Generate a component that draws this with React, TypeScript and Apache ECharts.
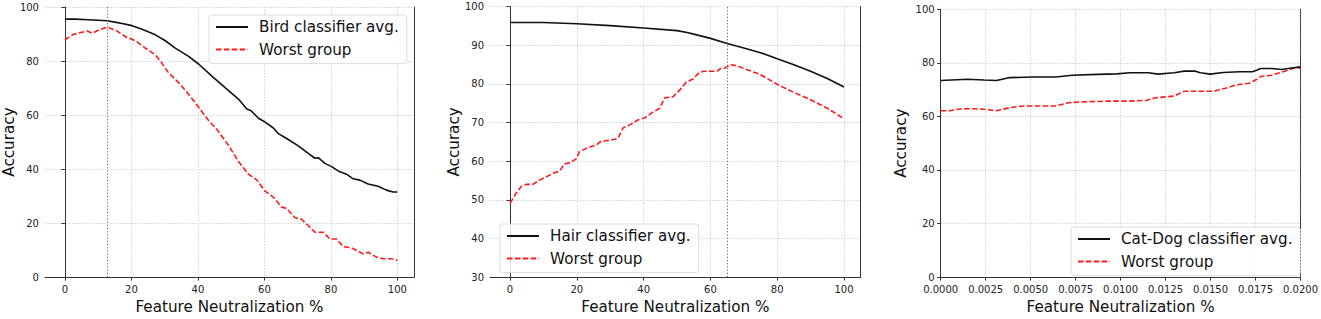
import React, { useEffect, useRef } from "react";
import * as echarts from "echarts";

// ---------- Data ----------
const birdAvgX = [0, 3, 7, 10, 12.7, 15, 17.2, 20.2, 23.2, 27.2, 30.2, 33.2, 37.2, 40.2, 44.2, 48.7, 52.2, 54.7, 56, 58.2, 60.2, 62.7, 64.2, 66.7, 70.2, 73.2, 75.2, 76.2, 78.2, 80.2, 82.2, 84.7, 86.7, 88.7, 91.2, 94.2, 96.7, 98.7, 100];
const birdAvgY = [95.5, 95.5, 95.3, 95.1, 94.9, 94.4, 93.9, 93.1, 91.8, 89.7, 87.5, 84.8, 81.7, 78.9, 74.4, 69.6, 65.9, 62.2, 61.6, 58.8, 57.4, 55.2, 53.1, 51.3, 48.6, 45.8, 44.0, 44.2, 42.1, 40.9, 39.3, 38.1, 36.4, 35.9, 34.5, 33.6, 32.2, 31.5, 31.5];
const birdWorstX = [0, 2.2, 4.5, 6.7, 8.2, 10.2, 12.7, 15.2, 18.2, 21.2, 24.2, 27.2, 29, 31.2, 34.2, 37.2, 40.2, 43.2, 45.7, 49.2, 52.2, 55.2, 57.7, 60.2, 62.7, 65.2, 66.7, 69.2, 71.2, 73.2, 75.2, 77.7, 79.7, 81.7, 83.7, 86.2, 88.2, 89.7, 91.2, 93.7, 95.7, 98.2, 100];
const birdWorstY = [87.8, 89.7, 90.5, 91.1, 90.3, 91.5, 92.5, 91.5, 89.0, 87.5, 84.8, 82.3, 79.5, 75.6, 72.0, 67.7, 62.9, 58.0, 54.7, 48.8, 42.8, 38.1, 36.0, 31.8, 29.6, 25.9, 25.4, 22.0, 21.4, 19.0, 16.6, 16.6, 14.1, 14.1, 11.3, 10.8, 9.6, 8.6, 9.2, 7.4, 6.8, 6.8, 6.2];

const hairAvgX = [0, 10, 20, 30, 40, 50, 53, 55, 60, 65, 70, 75, 80, 85, 90, 95, 100];
const hairAvgY = [95.9, 95.9, 95.6, 95.1, 94.5, 93.8, 93.3, 92.9, 91.8, 90.5, 89.3, 88.1, 86.5, 85.0, 83.3, 81.4, 79.2];
const hairWorstX = [0, 1.8, 3.3, 4.8, 6.8, 8.8, 10.8, 12.8, 14.8, 16.3, 18.3, 19.8, 20.8, 23.3, 25.8, 27.3, 29.8, 32.3, 33.8, 36.3, 38.3, 40.3, 42.8, 44.8, 46.3, 48.8, 50.8, 52.8, 54.8, 56.6, 58, 62, 63, 64, 65, 66, 68, 70, 75, 80, 85, 90, 95, 100];
const hairWorstY = [49.1, 51.7, 53.4, 54.0, 54.0, 55.1, 55.9, 56.9, 57.4, 59.3, 59.7, 60.6, 62.5, 63.5, 64.2, 65.2, 65.4, 65.9, 68.6, 69.6, 70.7, 71.2, 72.7, 73.7, 76.4, 76.7, 78.4, 80.5, 81.3, 82.9, 83.3, 83.3, 84.0, 84.0, 84.5, 85.0, 84.7, 84.0, 82.4, 79.9, 77.8, 75.9, 73.7, 71.0];

const catAvgX = [0, 0.0015, 0.0024, 0.0031, 0.00385, 0.0051, 0.0064, 0.0073, 0.0087, 0.0098, 0.0105, 0.01154, 0.01208, 0.01298, 0.01353, 0.01416, 0.01443, 0.01498, 0.0157, 0.0166, 0.01733, 0.0176, 0.01778, 0.01841, 0.01895, 0.0195, 0.02];
const catAvgY = [73.4, 73.9, 73.6, 73.4, 74.5, 74.7, 74.7, 75.4, 75.7, 75.9, 76.3, 76.3, 75.8, 76.3, 76.9, 76.9, 76.3, 75.8, 76.4, 76.7, 76.7, 77.3, 77.9, 77.9, 77.5, 78.1, 78.5];
const catWorstX = [0, 0.0005, 0.00095, 0.0015, 0.0024, 0.0031, 0.00385, 0.0046, 0.0064, 0.0071, 0.0077, 0.0093, 0.0105, 0.01145, 0.0119, 0.01298, 0.01353, 0.01515, 0.01588, 0.01642, 0.01715, 0.0175, 0.01778, 0.01841, 0.01913, 0.01967, 0.02];
const catWorstY = [62.1, 62.1, 62.7, 62.9, 62.7, 62.1, 63.3, 63.9, 63.9, 65.1, 65.4, 65.7, 65.7, 66.0, 66.9, 67.6, 69.4, 69.4, 70.6, 71.8, 72.4, 73.6, 74.9, 75.4, 76.9, 78.1, 78.1];

const xTicks100 = [0, 20, 40, 60, 80, 100];
const xTicksCat = [0, 0.0025, 0.005, 0.0075, 0.01, 0.0125, 0.015, 0.0175, 0.02];

const legendNames = [
  ["Bird classifier avg.", "Worst group"],
  ["Hair classifier avg.", "Worst group"],
  ["Cat-Dog classifier avg.", "Worst group"],
];
const optimumX = [12.8, 65, 0.0198];

const zip = (xs: number[], ys: number[]) => xs.map((x, i) => [x, ys[i]]);

const FONT = "DejaVu Sans";
const TICK_COLOR = "#222";
const GRID_COLOR = "#c8c8c8";
const SPINE_COLOR = "#333";

export default function App() {
  const ref = useRef<HTMLDivElement>(null);
  useEffect(() => {
    if (!ref.current) return;
    const chart = echarts.init(ref.current, undefined, { renderer: "svg" });

    const grids = [
      { left: 44, top: 7, width: 370, height: 273 },
      { left: 490, top: 6.7, width: 370.7, height: 274.8 },
      { left: 940.7, top: 9.3, width: 368.6, height: 274.4 },
    ];

    const xAxis: any[] = [];
    const yAxis: any[] = [];
    const common = {
      axisLine: { show: true, lineStyle: { color: SPINE_COLOR, width: 1 } },
      axisTick: { show: true, length: 3.5, lineStyle: { color: SPINE_COLOR } },
      splitLine: { show: true, lineStyle: { color: GRID_COLOR, type: [1.5, 1.5], width: 0.8 } },
      nameTextStyle: { fontFamily: FONT, fontSize: 15.2, color: "#111" },
    };
    const labelStyle = { fontFamily: FONT, fontSize: 10, color: TICK_COLOR };

    const xCfg = [
      { min: -6, max: 105, ticks: xTicks100, fmt: (v: number) => String(v) },
      { min: -6, max: 105, ticks: xTicks100, fmt: (v: number) => String(v) },
      { min: 0, max: 0.02, ticks: xTicksCat, fmt: (v: number) => v.toFixed(4) },
    ];
    const yCfg = [
      { min: 0, max: 100, interval: 20, gap: 28.5 },
      { min: 30, max: 100, interval: 10, gap: 29 },
      { min: 0, max: 100, interval: 20, gap: 32 },
    ];

    for (let i = 0; i < 3; i++) {
      xAxis.push({
        type: "value",
        gridIndex: i,
        min: xCfg[i].min,
        max: xCfg[i].max,
        name: "Feature Neutralization %",
        nameLocation: "middle",
        nameGap: 19,
        ...common,
        axisTick: { ...common.axisTick, customValues: xCfg[i].ticks },
        axisLabel: { ...labelStyle, margin: 7, customValues: xCfg[i].ticks, formatter: xCfg[i].fmt },
      });
      yAxis.push({
        type: "value",
        gridIndex: i,
        min: yCfg[i].min,
        max: yCfg[i].max,
        interval: yCfg[i].interval,
        name: "Accuracy",
        nameLocation: "middle",
        nameGap: yCfg[i].gap,
        ...common,
        axisLabel: { ...labelStyle, margin: 6 },
      });
    }
    // right spines
    for (let i = 0; i < 3; i++) {
      yAxis.push({
        type: "value",
        gridIndex: i,
        position: "right",
        min: yCfg[i].min,
        max: yCfg[i].max,
        axisLine: { show: true, lineStyle: { color: SPINE_COLOR, width: 1 } },
        axisTick: { show: false },
        axisLabel: { show: false },
        splitLine: { show: false },
      });
    }

    const avgData = [zip(birdAvgX, birdAvgY), zip(hairAvgX, hairAvgY), zip(catAvgX, catAvgY)];
    const worstData = [zip(birdWorstX, birdWorstY), zip(hairWorstX, hairWorstY), zip(catWorstX, catWorstY)];

    const series: any[] = [];
    for (let i = 0; i < 3; i++) {
      series.push({
        type: "line",
        name: legendNames[i][0],
        xAxisIndex: i,
        yAxisIndex: i,
        data: avgData[i],
        symbol: "none",
        lineStyle: { color: "#111", width: 1.6 },
        itemStyle: { color: "#111" },
        markLine: {
          silent: true,
          symbol: "none",
          label: { show: false },
          lineStyle: { color: "#666", type: [1.2, 2], width: 1 },
          data: [{ xAxis: optimumX[i] }],
        },
        z: 3,
      });
      series.push({
        type: "line",
        name: legendNames[i][1],
        xAxisIndex: i,
        yAxisIndex: i,
        data: worstData[i],
        symbol: "none",
        lineStyle: { color: "#ff1a1a", width: 1.6, type: [5.5, 2.4] },
        itemStyle: { color: "#ff1a1a" },
        z: 2,
      });
    }

    const legendPos = [
      { left: 209, top: 15 },
      { left: 500, top: 224 },
      { left: 1071, top: 227 },
    ];
    const legend = legendPos.map((p, i) => ({
      ...p,
      orient: "vertical",
      data: legendNames[i],
      itemWidth: 32,
      itemHeight: 12,
      itemGap: 4.6,
      padding: [3, 8, 5, 6],
      backgroundColor: "rgba(255,255,255,0.85)",
      borderColor: "#dcdcdc",
      borderWidth: 1,
      borderRadius: 3,
      selectedMode: false,
      itemStyle: { color: "rgba(0,0,0,0)", borderColor: "rgba(0,0,0,0)", borderWidth: 0, opacity: 0 },
      textStyle: { fontFamily: FONT, fontSize: 15.2, color: "#111", lineHeight: 18, padding: [0, 0, 0, 6] },
    }));

    chart.setOption({
      animation: false,
      backgroundColor: "#fff",
      grid: grids,
      xAxis,
      yAxis,
      series,
      legend,
    });
    return () => chart.dispose();
  }, []);
  return (
    <div
      ref={ref}
      style={{ position: "absolute", left: 0, top: 0, width: 1321, height: 319 }}
    />
  );
}
